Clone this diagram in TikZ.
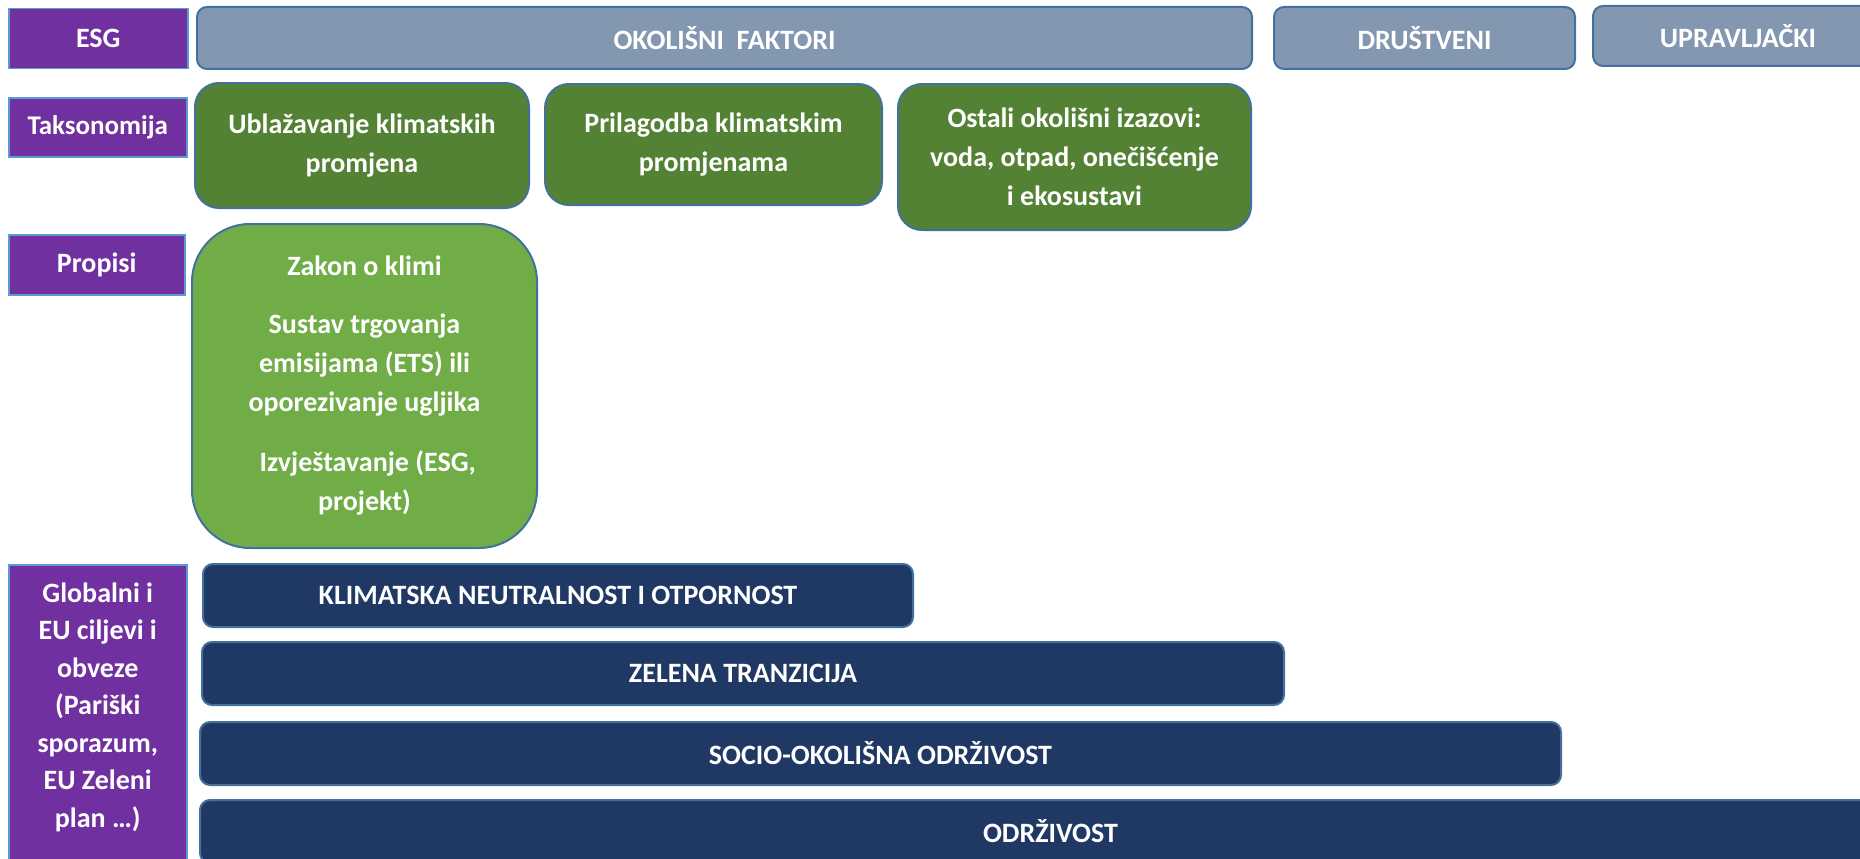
\documentclass[tikz,border=0pt]{standalone}
\usepackage{fontspec}
\setmainfont{Carlito}
\usepackage{xcolor}
\usepackage{tikz}
\usetikzlibrary{positioning}
\definecolor{esgpurple}{HTML}{7030A0}
\definecolor{purpleline}{HTML}{5B9BD5}
\definecolor{boxline}{HTML}{41719C}
\definecolor{headgray}{HTML}{8497B0}
\definecolor{taxgreen}{HTML}{548235}
\definecolor{lawgreen}{HTML}{70AD47}
\definecolor{goalnavy}{HTML}{203864}
\tikzset{font={\fontsize{28pt}{39pt}\selectfont\bfseries}}
\tikzset{
  rowlabel/.style={draw=purpleline, line width=1.5pt, fill=esgpurple, text=white, anchor=north west, inner sep=0pt},
  header/.style={draw=boxline, line width=2pt, fill=headgray, text=white, rounded corners=10pt, anchor=north west, inner sep=0pt},
  taxbox/.style={draw=boxline, line width=2pt, fill=taxgreen, text=white, rounded corners=24pt, align=center, anchor=north west, inner sep=0pt},
  lawbox/.style={draw=boxline, line width=2pt, fill=lawgreen, text=white, rounded corners=58pt, align=center, anchor=north west, inner sep=0pt},
  goalbar/.style={draw=boxline, line width=2pt, fill=goalnavy, text=white, rounded corners=10pt, anchor=north west, inner sep=0pt, minimum height=63pt},
}

\begin{document}
\begin{tikzpicture}[x=1pt, y=1pt]
  \useasboundingbox (0,0) rectangle (1860,-859);

  % Row labels
  \node[rowlabel, minimum width=179pt, minimum height=60pt] (esg) at (8,-8) {ESG};
  \node[rowlabel, minimum width=178pt, minimum height=59pt, font={\fontsize{27pt}{34pt}\selectfont\bfseries}] (tax) at (8,-97) {Taksonomija};
  \node[rowlabel, minimum width=176pt, minimum height=60pt] (prop) at (8,-234) {Propisi};
  \node[rowlabel, minimum width=178pt, minimum height=310pt] (glob) at (8,-564) {};
  \node[below=15pt of glob.north, text=white, align=center, font={\fontsize{28pt}{37.5pt}\selectfont\bfseries}] (globtext)
    {Globalni i\\EU ciljevi i\\obveze\\(Pariški\\sporazum,\\EU Zeleni\\plan …)};

  % ESG headers
  \node[header, minimum width=1055pt, minimum height=62pt] (okol) at (196,-6) {OKOLIŠNI\ \ FAKTORI};
  \node[header, minimum width=301pt, minimum height=62pt] (drus) at (1273,-6) {DRUŠTVENI};
  \node[header, minimum width=290pt, minimum height=60pt] (uprav) at (1592,-5) {UPRAVLJAČKI};

  % Taxonomy
  \node[taxbox, minimum width=334pt, minimum height=125pt] (ubl) at (194,-82) {Ublažavanje klimatskih\\promjena};
  \node[taxbox, minimum width=337pt, minimum height=121pt] (pril) at (544,-83) {Prilagodba klimatskim\\promjenama};
  \node[taxbox, minimum width=353pt, minimum height=146pt] (ost) at (897,-83) {Ostali okolišni izazovi:\\voda, otpad, onečišćenje\\i ekosustavi};

  % Regulations
  \node[lawbox, minimum width=345pt, minimum height=324pt] (zakon) at (191,-223)
    {Zakon o klimi\\[19pt] Sustav trgovanja\\emisijama (ETS) ili\\oporezivanje ugljika\\[21pt] \ Izvještavanje (ESG,\\projekt)};

  % Goals
  \node[goalbar, minimum width=710pt] (klim) at (202,-563) {KLIMATSKA NEUTRALNOST I OTPORNOST};
  \node[goalbar, minimum width=1082pt] (zel) at (201,-641) {ZELENA TRANZICIJA};
  \node[goalbar, minimum width=1361pt] (socio) at (199,-721) {SOCIO-OKOLIŠNA ODRŽIVOST};
  \node[goalbar, minimum width=1701pt] (odrz) at (199,-799) {ODRŽIVOST};
\end{tikzpicture}
\end{document}
